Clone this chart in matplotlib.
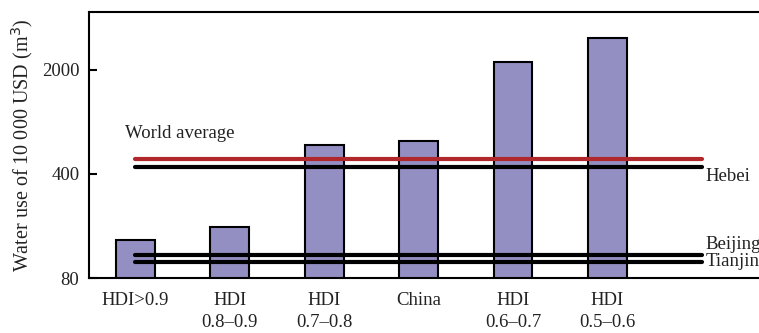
import matplotlib
matplotlib.use("Agg")
import matplotlib.pyplot as plt
from matplotlib.ticker import FixedLocator, FixedFormatter, NullLocator

plt.rcParams['font.family'] = ['Liberation Serif', 'DejaVu Serif']

# Water use per 10 000 USD of GDP (m3), log scale
categories = ["HDI>0.9", "HDI\n0.8\u20130.9", "HDI\n0.7\u20130.8", "China",
              "HDI\n0.6\u20130.7", "HDI\n0.5\u20130.6"]
values = [145, 177, 624, 664, 2270, 3300]

# Reference levels
ref_names = ["World average", "Hebei", "Beijing", "Tianjin"]
ref_values = [508, 445, 115, 103]
ref_colors = ["#b0282b", "#000000", "#000000", "#000000"]

y_ticks = [80, 400, 2000]

fig = plt.figure(figsize=(7.59, 3.33), dpi=100)
ax = fig.add_axes([89 / 759, 55 / 333, 679 / 759, 266 / 333])

x = list(range(len(categories)))
ax.bar(x, values, width=0.41, color="#948fc3", edgecolor="black",
       linewidth=1.5, zorder=2)

for v, c in zip(ref_values, ref_colors):
    ax.plot([0, 6], [v, v], color=c, linewidth=3,
            solid_capstyle="round", zorder=3)

txt = "#222222"
fs = 13.5
ax.text(-0.11, 745, ref_names[0], fontsize=fs, color=txt,
        ha="left", va="center")
ax.text(6.04, ref_values[1] * 0.99, ref_names[1], fontsize=fs, color=txt,
        ha="left", va="top")
ax.text(6.04, ref_values[2] * 1.02, ref_names[2], fontsize=fs, color=txt,
        ha="left", va="bottom")
ax.text(6.04, ref_values[3], ref_names[3], fontsize=fs, color=txt,
        ha="left", va="center")

ax.set_yscale("log")
ax.set_ylim(80, 4900)
ax.set_xlim(-0.49, 6.7)
ax.yaxis.set_major_locator(FixedLocator(y_ticks))
ax.yaxis.set_major_formatter(FixedFormatter([str(t) for t in y_ticks]))
ax.yaxis.set_minor_locator(NullLocator())

ax.set_xticks(x)
ax.set_xticklabels(categories, fontsize=fs, color=txt, linespacing=1.4,
                   va="top")
ax.tick_params(axis="x", length=0, pad=10)
ax.tick_params(axis="y", direction="in", length=6, width=1.5,
               labelsize=13.5, colors="black", labelcolor=txt, pad=7)

ax.set_ylabel("Water use of 10 000 USD (m$^3$)", fontsize=14.5, color=txt,
              labelpad=5)

for side in ["left", "bottom", "top"]:
    ax.spines[side].set_linewidth(1.5)
ax.spines["right"].set_visible(False)

fig.savefig("out.png", dpi=100)
